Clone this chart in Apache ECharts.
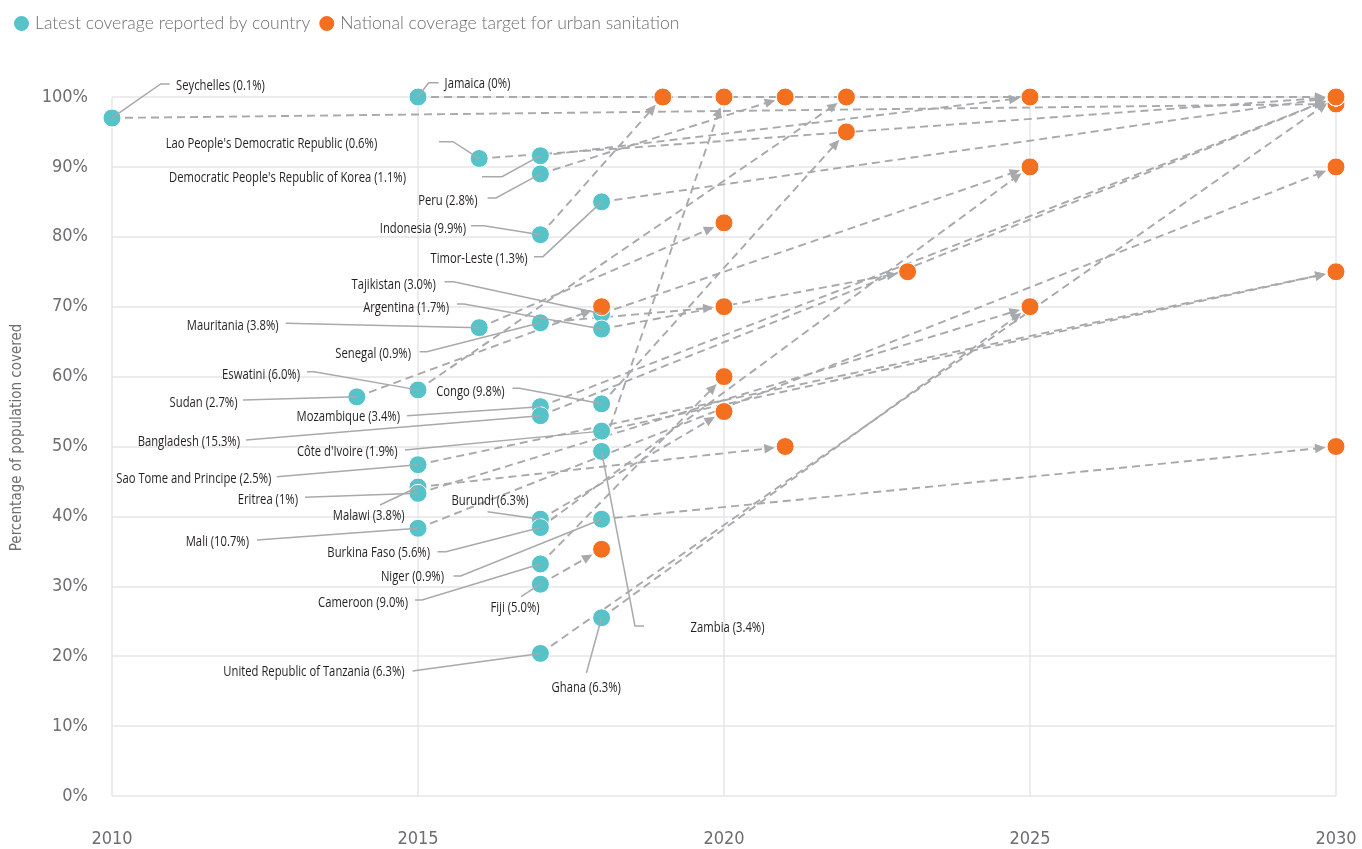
<!DOCTYPE html>
<html><head><meta charset="utf-8">
<script src="https://cdn.jsdelivr.net/npm/echarts/dist/echarts.min.js"></script>
<style>html,body{margin:0;padding:0;background:#fff}#c{width:1362px;height:849px}</style>
</head><body><div id="c"></div>
<script>
// ---------------- DATA ----------------
const countries = ["Seychelles","Jamaica","Lao People's Democratic Republic","Democratic People's Republic of Korea","Peru","Indonesia","Timor-Leste","Tajikistan","Argentina","Mauritania","Senegal","Eswatini","Sudan","Congo","Mozambique","Bangladesh","Côte d'Ivoire","Sao Tome and Principe","Malawi","Eritrea","Mali","Burundi","Burkina Faso","Niger","Cameroon","Fiji","Zambia","Ghana","United Republic of Tanzania"];
const popShare = ["0.1%","0%","0.6%","1.1%","2.8%","9.9%","1.3%","3.0%","1.7%","3.8%","0.9%","6.0%","2.7%","9.8%","3.4%","15.3%","1.9%","2.5%","3.8%","1%","10.7%","6.3%","5.6%","0.9%","9.0%","5.0%","3.4%","6.3%","6.3%"];
const startYear = [2010,2015,2016,2017,2017,2017,2018,2018,2018,2016,2017,2015,2014,2018,2017,2017,2018,2015,2015,2015,2015,2017,2017,2018,2017,2017,2018,2018,2017];
const startValue = [97,100,91.2,91.6,89,80.3,85,69,66.8,67,67.7,58.1,57.1,56.1,55.7,54.4,52.2,47.4,44.2,43.3,38.3,39.6,38.4,39.6,33.2,30.3,49.3,25.5,20.4];
const targetYear = [2030,2030,2030,2025,2021,2019,2030,2025,2023,2020,2020,2022,2018,2022,2030,2030,2030,2030,2021,2025,2030,2020,2025,2030,2020,2018,2020,2025,2030];
const targetValue = [99,100,100,100,100,100,100,90,75,82,70,100,70,95,100,100,75,75,50,70,90,55,90,50,60,35.3,100,70,100];
const xTicks = [2010,2015,2020,2025,2030];
const yTicks = [0,10,20,30,40,50,60,70,80,90,100];
const legendNames = ["Latest coverage reported by country","National coverage target for urban sanitation"];

// ---------------- LAYOUT (label placement, pixel offsets from each country's point) ----------------
const LABEL_LAYOUT = [
  {path:[[57.6,-34],[48.7,-34]], text:[64,-32,'left']},
  {path:[[20.6,-14.3],[10.6,-14.3]], text:[26.6,-13,'left']},
  {path:[[-40.2,-16.8],[-26.2,-16.8]], text:[-102,-14,'right']},
  {path:[[-58.4,21],[-38.4,21]], text:[-134.4,22.5,'right']},
  {path:[[-52.9,24.1],[-44.4,24.1]], text:[-62.9,27,'right']},
  {path:[[-69.4,-9],[-56.4,-9]], text:[-74.4,-5.5,'right']},
  {path:[[-67.6,54.8],[-58.6,54.8]], text:[-74,57.5,'right']},
  {path:[[-157,-32],[-148,-32]], text:[-165.9,-28.5,'right']},
  {path:[[-144.6,-25.1],[-137.6,-25.1]], text:[-152.6,-21,'right']},
  {path:[[-193.5,-4.4]], text:[-200.6,-1.5,'right']},
  {path:[[-120.8,28.9],[-113.6,28.9]], text:[-129.4,31.5,'right']},
  {path:[[-111,-18.2],[-104,-18.2]], text:[-118,-15,'right']},
  {path:[[-113.8,3.1]], text:[-119.3,6,'right']},
  {path:[[-89.1,-15.6],[-82,-15.6]], text:[-97,-12,'right']},
  {path:[[-133.4,9]], text:[-140.4,10.5,'right']},
  {path:[[-294.4,24.3]], text:[-300.4,26,'right']},
  {path:[[-196.6,18.9]], text:[-204.1,21,'right']},
  {path:[[-141.2,12]], text:[-146.6,14.6,'right']},
  {path:[[-38,18]], text:[-13.4,29,'right']},
  {path:[[-113,4]], text:[-120,6.7,'right']},
  {path:[[-161,11.7]], text:[-169,13.4,'right']},
  {path:[[-52.9,-7.5]], text:[-11.8,-18.2,'right']},
  {path:[[-102.9,24.1],[-94.4,24.1]], text:[-110.4,25.4,'right']},
  {path:[[-148,56.8],[-140.9,56.8]], text:[-157.6,57.5,'right']},
  {path:[[-125.4,36.1],[-118.4,36.1]], text:[-132.4,38.8,'right']},
  {path:[[-19.4,12.5]], text:[-25.4,24,'center']},
  {path:[[42.4,174.6],[33.4,174.6]], text:[89,177,'left']},
  {path:[[-15.2,55.2]], text:[-15.4,70.5,'center']},
  {path:[[-127.9,17.6]], text:[-135.8,18.3,'right']}
];

const TEAL = '#55c3c8', ORANGE = '#f37021', GREY = '#a7a9ac', AXIS_TXT = '#6d6e71';
const NARROW = '"DejaVu Sans Condensed","Liberation Sans Narrow",sans-serif';
const LABEL_FONT = '14px "Open Sans", Roboto, sans-serif';
const LABEL_SQUEEZE = 0.805;

const arrowData = countries.map((c,i)=>[startYear[i],startValue[i],targetYear[i],targetValue[i]]);
const startData = countries.map((c,i)=>[startYear[i],startValue[i]]);
const targetData = countries.map((c,i)=>[targetYear[i],targetValue[i]]);

function renderArrow(params, api){
  const p0 = api.coord([api.value(0), api.value(1)]);
  const p1 = api.coord([api.value(2), api.value(3)]);
  const dx = p1[0]-p0[0], dy = p1[1]-p0[1];
  const len = Math.hypot(dx,dy);
  if (len < 25) return null;
  const ux = dx/len, uy = dy/len;
  const R = 10.5, AL = 10.5, AW = 4.8;
  const tip = [p1[0]-ux*R, p1[1]-uy*R];
  const base = [tip[0]-ux*AL, tip[1]-uy*AL];
  const nx = -uy, ny = ux;
  return {type:'group', children:[
    {type:'line', shape:{x1:p0[0],y1:p0[1],x2:base[0]+ux*1,y2:base[1]+uy*1},
     style:{stroke:GREY, lineWidth:1.9, lineDash:[8,5], fill:null}},
    {type:'polygon', shape:{points:[tip,[base[0]+nx*AW,base[1]+ny*AW],[base[0]-nx*AW,base[1]-ny*AW]]},
     style:{fill:GREY}}
  ]};
}

function renderLeader(params, api){
  const i = params.dataIndex;
  const p = api.coord([api.value(0), api.value(1)]);
  const L = LABEL_LAYOUT[i];
  const pts = L.path.map(o=>[p[0]+o[0], p[1]+o[1]]).concat([p]);
  return {type:'group', children:[
    {type:'polyline', shape:{points:pts}, style:{stroke:GREY, lineWidth:1.5, fill:null}},
    {type:'text', x:p[0]+L.text[0], y:p[1]+L.text[1], scaleX:LABEL_SQUEEZE,
     style:{text: countries[i]+' ('+popShare[i]+')', align:L.text[2], verticalAlign:'middle',
            font:LABEL_FONT, fill:'#231f20'}}
  ]};
}

const chart = echarts.init(document.getElementById('c'), null, {renderer:'canvas'});
chart.setOption({
  animation:false,
  backgroundColor:'#fff',
  legend:{
    data:legendNames, left:12, top:14, padding:0, icon:'circle', itemWidth:17, itemHeight:17, itemGap:7,
    textStyle:{color:AXIS_TXT, fontSize:17.6, fontWeight:300, fontFamily:'Lato, "Open Sans", sans-serif'}
  },
  grid:{left:112, right:26, top:97, bottom:53},
  xAxis:{
    type:'value', min:xTicks[0], max:xTicks[xTicks.length-1], interval:5,
    axisLine:{show:false}, axisTick:{show:false},
    splitLine:{show:true, lineStyle:{color:'#e6e6e6', width:1.5}},
    axisLabel:{color:AXIS_TXT, fontSize:18, fontFamily:NARROW, margin:34, formatter:v=>String(v)}
  },
  yAxis:{
    type:'value', min:yTicks[0], max:yTicks[yTicks.length-1], interval:10,
    name:'Percentage of population covered', nameLocation:'middle', nameGap:87, nameRotate:90,
    nameTextStyle:{color:AXIS_TXT, fontSize:15, fontFamily:NARROW, padding:[0,0,0,18]},
    axisLine:{show:false}, axisTick:{show:false},
    splitLine:{show:true, lineStyle:{color:'#e6e6e6', width:1.5}},
    axisLabel:{color:AXIS_TXT, fontSize:18, fontFamily:NARROW, margin:24, formatter:'{value}%'}
  },
  series:[
    {type:'custom', name:'arrows', renderItem:renderArrow, data:arrowData, z:1, silent:true,
     encode:{x:[0,2], y:[1,3]}, clip:false},
    {type:'scatter', name:legendNames[0], data:startData, symbolSize:18, z:3,
     itemStyle:{color:TEAL, borderColor:'#fff', borderWidth:1, opacity:1}},
    {type:'scatter', name:legendNames[1], data:targetData, symbolSize:18, z:4,
     itemStyle:{color:ORANGE, borderColor:'#fff', borderWidth:1, opacity:1}},
    {type:'custom', name:'labels', renderItem:renderLeader, data:startData, z:5, silent:true, clip:false}
  ]
});
</script></body></html>
